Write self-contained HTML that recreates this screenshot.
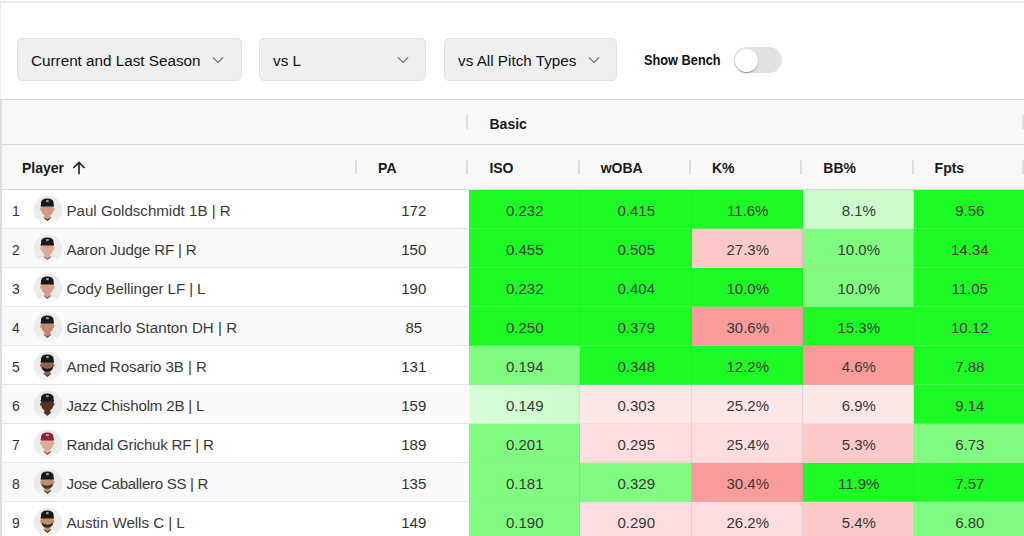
<!DOCTYPE html>
<html><head><meta charset="utf-8"><title>Lineup</title>
<style>
*{box-sizing:border-box;margin:0;padding:0}
html,body{width:1024px;height:536px;overflow:hidden;background:#fff;font-family:"Liberation Sans",sans-serif;color:#2b2b2b;position:relative}
.topline{position:absolute;left:0;top:1px;width:1024px;height:2px;background:#ececec}
.leftline{position:absolute;left:0;top:0;width:1px;height:100px;background:#ececec}
.dd{position:absolute;top:38px;height:42.5px;background:#efefef;border:1px solid #e1e1e1;border-radius:5px;font-size:15px;color:#1e1e1e;white-space:nowrap}
.dd span{position:absolute;left:13px;top:12.5px;line-height:18px;font-size:15.25px;color:#111}
.chev{position:absolute;top:16.6px}
.sb{position:absolute;left:643.5px;top:51px;font-size:14.5px;font-weight:700;color:#111;transform:scaleX(0.88);transform-origin:0 0;line-height:18px;white-space:nowrap}
.track{position:absolute;left:734px;top:47px;width:48px;height:26px;border-radius:13px;background:#e2e2e2}
.knob{position:absolute;left:735px;top:48.5px;width:23px;height:23px;border-radius:50%;background:#fff;box-shadow:0 2px 1px -1px rgba(0,0,0,0.2),0 1px 1px 0 rgba(0,0,0,0.14),0 1px 3px 0 rgba(0,0,0,0.12)}
.grid{position:absolute;left:0;top:98.5px;width:1024px;height:440px;border-top:1.5px solid #d5d7dd;border-left:2px solid #dcdde2;border-radius:3px 0 0 0;background:#fff;overflow:hidden}
.hbg{position:absolute;left:0;top:100px;width:1024px;height:90px;background:#f8f8f8}
.lb{position:absolute;left:0;top:99px;width:2px;height:440px;background:#dcdde2;z-index:5}
.hl1{position:absolute;left:0;top:144px;width:1024px;height:1px;background:#d3d8e1}
.hl2{position:absolute;left:0;top:189px;width:1024px;height:1px;background:#d3d8e1}
.sep{position:absolute;width:2px;height:14px;background:#d9dde6}
.hd{position:absolute;font-size:14px;font-weight:700;color:#1a1a1a;line-height:16px;white-space:nowrap;margin-top:1px}
.arrow{position:absolute;left:72px;top:160px}
.row{position:absolute;left:2px;width:1022px;height:39px;border-bottom:1px solid #e1e5ee}
.row .num{position:absolute;left:10px;top:13px;font-size:14px;line-height:16px;color:#333}
.row .av{position:absolute;left:31.2px;top:5.2px}
.row .name{position:absolute;left:64.5px;top:11.5px;font-size:15.1px;line-height:18px;color:#3a3a3a;white-space:nowrap}
.row .pa{position:absolute;left:355.6px;width:111.3px;padding-left:1px;top:11.5px;text-align:center;font-size:15px;line-height:18px;color:#333}
.row .cell{position:absolute;top:0;height:39px;margin-left:-2px;text-align:center;font-size:15px;line-height:41px;color:#383838;padding-left:1.5px;border-right:1px solid rgba(110,120,130,0.16);border-bottom:1px solid rgba(200,205,215,0.28)}
</style></head><body>
<div class="topline"></div><div class="leftline"></div>
<div class="dd" style="left:17px;width:225px"><span>Current and Last Season</span><svg class="chev" style="left:194px" width="12" height="8" viewBox="0 0 12 8"><path d="M0.8 1.3 L6 6.5 L11.2 1.3" fill="none" stroke="#6e6e6e" stroke-width="1.2"/></svg></div>
<div class="dd" style="left:259px;width:167px"><span>vs L</span><svg class="chev" style="left:137.1px" width="12" height="8" viewBox="0 0 12 8"><path d="M0.8 1.3 L6 6.5 L11.2 1.3" fill="none" stroke="#6e6e6e" stroke-width="1.2"/></svg></div>
<div class="dd" style="left:444px;width:173px"><span>vs All Pitch Types</span><svg class="chev" style="left:143.3px" width="12" height="8" viewBox="0 0 12 8"><path d="M0.8 1.3 L6 6.5 L11.2 1.3" fill="none" stroke="#6e6e6e" stroke-width="1.2"/></svg></div>
<div class="sb">Show Bench</div>
<div class="track"></div><div class="knob"></div>
<div class="grid"></div>
<div class="hbg"></div>
<div class="hl1"></div><div class="lb"></div><div class="hl2"></div>
<div class="sep" style="left:355.3px;top:160px"></div>
<div class="sep" style="left:465.8px;top:160px"></div>
<div class="sep" style="left:577.5px;top:160px"></div>
<div class="sep" style="left:688.9px;top:160px"></div>
<div class="sep" style="left:800.2px;top:160px"></div>
<div class="sep" style="left:911.6px;top:160px"></div>
<div class="sep" style="left:1022px;top:160px"></div>
<div class="sep" style="left:465.8px;top:115px"></div>
<div class="sep" style="left:1022px;top:115px"></div>
<span class="hd" style="left:489.5px;top:115px">Basic</span>
<span class="hd" style="left:22px;top:159px">Player</span>
<svg class="arrow" width="14" height="16" viewBox="0 0 14 16"><path d="M7 14.2 V2.5 M1.4 8 L7 2.4 L12.6 8" fill="none" stroke="#1d1d1d" stroke-width="1.6"/></svg>
<span class="hd" style="left:378.1px;top:159px">PA</span>
<span class="hd" style="left:489.4px;top:159px">ISO</span>
<span class="hd" style="left:600.7px;top:159px">wOBA</span>
<span class="hd" style="left:712.0px;top:159px">K%</span>
<span class="hd" style="left:823.3px;top:159px">BB%</span>
<span class="hd" style="left:934.6px;top:159px">Fpts</span>
<div class="row" style="top:190px;background:#ffffff"><span class="num">1</span><svg class="av" width="30" height="30" viewBox="0 0 30 30"><circle cx="15" cy="15" r="14.2" fill="#ebebeb"/><clipPath id="c0"><circle cx="15" cy="15" r="14.2"/></clipPath><g clip-path="url(#c0)"><path d="M1.5 31 Q2.5 25 9.8 22.8 L19 22.8 Q26.3 25 27.3 31 Z" fill="#f7f7f7"/><path d="M10.2 22.6 L14.4 26 L18.6 22.6 Z" fill="#2a2a2a"/><rect x="11.3" y="17" width="6" height="6" fill="#d09a82"/><path d="M11.3 22.4 L14.4 24.6 L17.3 22.4 Z" fill="#d09a82"/><path d="M8.1 10 L20.5 10 L20.3 15.6 Q19.7 20.5 14.3 20.7 Q8.9 20.5 8.3 15.6 Z" fill="#d09a82"/><ellipse cx="8" cy="14.2" rx="0.8" ry="1.7" fill="#d09a82"/><ellipse cx="20.6" cy="14.2" rx="0.8" ry="1.7" fill="#d09a82"/><path d="M8 10.8 L8 8 Q8.1 3.7 14.3 3.6 Q20.5 3.7 20.6 8 L20.6 10.8 Z" fill="#18181c"/><rect x="7.5" y="9.8" width="13.6" height="1.7" rx="0.85" fill="#18181c"/><rect x="13.1" y="5" width="2.6" height="2.2" fill="#c8c8c8" opacity="0.75"/></g></svg><span class="name" style="letter-spacing:0.000px">Paul Goldschmidt 1B | R</span><span class="pa">172</span><span class="cell" style="left:469px;width:111px;background:#1dfb25">0.232</span><span class="cell" style="left:580px;width:112px;background:#1dfb25">0.415</span><span class="cell" style="left:692px;width:111px;background:#1dfb25">11.6%</span><span class="cell" style="left:803px;width:111px;background:#ccfccc">8.1%</span><span class="cell" style="left:914px;width:111px;background:#1dfb25">9.56</span></div>
<div class="row" style="top:229px;background:#fafafa"><span class="num">2</span><svg class="av" width="30" height="30" viewBox="0 0 30 30"><circle cx="15" cy="15" r="14.2" fill="#ebebeb"/><clipPath id="c1"><circle cx="15" cy="15" r="14.2"/></clipPath><g clip-path="url(#c1)"><path d="M1.5 31 Q2.5 25 9.8 22.8 L19 22.8 Q26.3 25 27.3 31 Z" fill="#f5f5f5"/><path d="M10.2 22.6 L14.4 26 L18.6 22.6 Z" fill="#666"/><rect x="11.3" y="17" width="6" height="6" fill="#dcaa92"/><path d="M11.3 22.4 L14.4 24.6 L17.3 22.4 Z" fill="#dcaa92"/><path d="M8.1 10 L20.5 10 L20.3 15.6 Q19.7 20.5 14.3 20.7 Q8.9 20.5 8.3 15.6 Z" fill="#dcaa92"/><ellipse cx="8" cy="14.2" rx="0.8" ry="1.7" fill="#dcaa92"/><ellipse cx="20.6" cy="14.2" rx="0.8" ry="1.7" fill="#dcaa92"/><path d="M8 10.8 L8 8 Q8.1 3.7 14.3 3.6 Q20.5 3.7 20.6 8 L20.6 10.8 Z" fill="#18181c"/><rect x="7.5" y="9.8" width="13.6" height="1.7" rx="0.85" fill="#18181c"/><rect x="13.1" y="5" width="2.6" height="2.2" fill="#c8c8c8" opacity="0.75"/></g></svg><span class="name" style="letter-spacing:-0.176px">Aaron Judge RF | R</span><span class="pa">150</span><span class="cell" style="left:469px;width:111px;background:#1dfb25">0.455</span><span class="cell" style="left:580px;width:112px;background:#1dfb25">0.505</span><span class="cell" style="left:692px;width:111px;background:#fcc9c9">27.3%</span><span class="cell" style="left:803px;width:111px;background:#80fc80">10.0%</span><span class="cell" style="left:914px;width:111px;background:#1dfb25">14.34</span></div>
<div class="row" style="top:268px;background:#ffffff"><span class="num">3</span><svg class="av" width="30" height="30" viewBox="0 0 30 30"><circle cx="15" cy="15" r="14.2" fill="#ebebeb"/><clipPath id="c2"><circle cx="15" cy="15" r="14.2"/></clipPath><g clip-path="url(#c2)"><path d="M1.5 31 Q2.5 25 9.8 22.8 L19 22.8 Q26.3 25 27.3 31 Z" fill="#f5f5f5"/><path d="M10.2 22.6 L14.4 26 L18.6 22.6 Z" fill="#666"/><rect x="11.3" y="17" width="6" height="6" fill="#d4a088"/><path d="M11.3 22.4 L14.4 24.6 L17.3 22.4 Z" fill="#d4a088"/><path d="M8.1 10 L20.5 10 L20.3 15.6 Q19.7 20.5 14.3 20.7 Q8.9 20.5 8.3 15.6 Z" fill="#d4a088"/><ellipse cx="8" cy="14.2" rx="0.8" ry="1.7" fill="#d4a088"/><ellipse cx="20.6" cy="14.2" rx="0.8" ry="1.7" fill="#d4a088"/><path d="M8 10.8 L8 8 Q8.1 3.7 14.3 3.6 Q20.5 3.7 20.6 8 L20.6 10.8 Z" fill="#18181c"/><rect x="7.5" y="9.8" width="13.6" height="1.7" rx="0.85" fill="#18181c"/><rect x="13.1" y="5" width="2.6" height="2.2" fill="#c8c8c8" opacity="0.75"/></g></svg><span class="name" style="letter-spacing:-0.085px">Cody Bellinger LF | L</span><span class="pa">190</span><span class="cell" style="left:469px;width:111px;background:#1dfb25">0.232</span><span class="cell" style="left:580px;width:112px;background:#1dfb25">0.404</span><span class="cell" style="left:692px;width:111px;background:#1dfb25">10.0%</span><span class="cell" style="left:803px;width:111px;background:#80fc80">10.0%</span><span class="cell" style="left:914px;width:111px;background:#1dfb25">11.05</span></div>
<div class="row" style="top:307px;background:#fafafa"><span class="num">4</span><svg class="av" width="30" height="30" viewBox="0 0 30 30"><circle cx="15" cy="15" r="14.2" fill="#ebebeb"/><clipPath id="c3"><circle cx="15" cy="15" r="14.2"/></clipPath><g clip-path="url(#c3)"><path d="M1.5 31 Q2.5 25 9.8 22.8 L19 22.8 Q26.3 25 27.3 31 Z" fill="#f4f4f4"/><path d="M10.2 22.6 L14.4 26 L18.6 22.6 Z" fill="#555"/><rect x="11.3" y="17" width="6" height="6" fill="#c08a70"/><path d="M11.3 22.4 L14.4 24.6 L17.3 22.4 Z" fill="#c08a70"/><path d="M8.1 10 L20.5 10 L20.3 15.6 Q19.7 20.5 14.3 20.7 Q8.9 20.5 8.3 15.6 Z" fill="#c08a70"/><ellipse cx="8" cy="14.2" rx="0.8" ry="1.7" fill="#c08a70"/><ellipse cx="20.6" cy="14.2" rx="0.8" ry="1.7" fill="#c08a70"/><path d="M8 10.8 L8 8 Q8.1 3.7 14.3 3.6 Q20.5 3.7 20.6 8 L20.6 10.8 Z" fill="#18181c"/><rect x="7.5" y="9.8" width="13.6" height="1.7" rx="0.85" fill="#18181c"/><rect x="13.1" y="5" width="2.6" height="2.2" fill="#c8c8c8" opacity="0.75"/></g></svg><span class="name" style="letter-spacing:0.022px">Giancarlo Stanton DH | R</span><span class="pa">85</span><span class="cell" style="left:469px;width:111px;background:#1dfb25">0.250</span><span class="cell" style="left:580px;width:112px;background:#1dfb25">0.379</span><span class="cell" style="left:692px;width:111px;background:#f99b9b">30.6%</span><span class="cell" style="left:803px;width:111px;background:#1dfb25">15.3%</span><span class="cell" style="left:914px;width:111px;background:#1dfb25">10.12</span></div>
<div class="row" style="top:346px;background:#ffffff"><span class="num">5</span><svg class="av" width="30" height="30" viewBox="0 0 30 30"><circle cx="15" cy="15" r="14.2" fill="#ebebeb"/><clipPath id="c4"><circle cx="15" cy="15" r="14.2"/></clipPath><g clip-path="url(#c4)"><path d="M1.5 31 Q2.5 25 9.8 22.8 L19 22.8 Q26.3 25 27.3 31 Z" fill="#f4f4f4"/><path d="M10.2 22.6 L14.4 26 L18.6 22.6 Z" fill="#333"/><rect x="11.3" y="17" width="6" height="6" fill="#946450"/><path d="M11.3 22.4 L14.4 24.6 L17.3 22.4 Z" fill="#946450"/><path d="M8.1 10 L20.5 10 L20.3 15.6 Q19.7 20.5 14.3 20.7 Q8.9 20.5 8.3 15.6 Z" fill="#946450"/><ellipse cx="8" cy="14.2" rx="0.8" ry="1.7" fill="#946450"/><ellipse cx="20.6" cy="14.2" rx="0.8" ry="1.7" fill="#946450"/><path d="M8.5 15.2 Q8.9 20.6 14.3 20.8 Q19.7 20.6 20.1 15.2 Q18.4 17.6 14.3 17.7 Q10.2 17.6 8.5 15.2 Z" fill="#231a16"/><path d="M8 10.8 L8 8 Q8.1 3.7 14.3 3.6 Q20.5 3.7 20.6 8 L20.6 10.8 Z" fill="#18181c"/><rect x="7.5" y="9.8" width="13.6" height="1.7" rx="0.85" fill="#18181c"/><rect x="13.1" y="5" width="2.6" height="2.2" fill="#c8c8c8" opacity="0.75"/></g></svg><span class="name" style="letter-spacing:-0.061px">Amed Rosario 3B | R</span><span class="pa">131</span><span class="cell" style="left:469px;width:111px;background:#80fc80">0.194</span><span class="cell" style="left:580px;width:112px;background:#1dfb25">0.348</span><span class="cell" style="left:692px;width:111px;background:#1dfb25">12.2%</span><span class="cell" style="left:803px;width:111px;background:#f99b9b">4.6%</span><span class="cell" style="left:914px;width:111px;background:#1dfb25">7.88</span></div>
<div class="row" style="top:385px;background:#fafafa"><span class="num">6</span><svg class="av" width="30" height="30" viewBox="0 0 30 30"><circle cx="15" cy="15" r="14.2" fill="#ebebeb"/><clipPath id="c5"><circle cx="15" cy="15" r="14.2"/></clipPath><g clip-path="url(#c5)"><path d="M1.5 31 Q2.5 25 9.8 22.8 L19 22.8 Q26.3 25 27.3 31 Z" fill="#f2f2f2"/><path d="M10.2 22.6 L14.4 26 L18.6 22.6 Z" fill="#444"/><rect x="11.3" y="17" width="6" height="6" fill="#56321f"/><path d="M11.3 22.4 L14.4 24.6 L17.3 22.4 Z" fill="#56321f"/><path d="M8.1 10 L20.5 10 L20.3 15.6 Q19.7 20.5 14.3 20.7 Q8.9 20.5 8.3 15.6 Z" fill="#56321f"/><ellipse cx="8" cy="14.2" rx="0.8" ry="1.7" fill="#56321f"/><ellipse cx="20.6" cy="14.2" rx="0.8" ry="1.7" fill="#56321f"/><path d="M8 10.8 L8 8 Q8.1 3.7 14.3 3.6 Q20.5 3.7 20.6 8 L20.6 10.8 Z" fill="#18181c"/><rect x="7.5" y="9.8" width="13.6" height="1.7" rx="0.85" fill="#18181c"/><rect x="13.1" y="5" width="2.6" height="2.2" fill="#c8c8c8" opacity="0.75"/></g></svg><span class="name" style="letter-spacing:-0.189px">Jazz Chisholm 2B | L</span><span class="pa">159</span><span class="cell" style="left:469px;width:111px;background:linear-gradient(90deg,#d9fcd9,#cbfbcb)">0.149</span><span class="cell" style="left:580px;width:112px;background:#fde6e6">0.303</span><span class="cell" style="left:692px;width:111px;background:#fde6e6">25.2%</span><span class="cell" style="left:803px;width:111px;background:#fde6e6">6.9%</span><span class="cell" style="left:914px;width:111px;background:#1dfb25">9.14</span></div>
<div class="row" style="top:424px;background:#ffffff"><span class="num">7</span><svg class="av" width="30" height="30" viewBox="0 0 30 30"><circle cx="15" cy="15" r="14.2" fill="#ebebeb"/><clipPath id="c6"><circle cx="15" cy="15" r="14.2"/></clipPath><g clip-path="url(#c6)"><path d="M1.5 31 Q2.5 25 9.8 22.8 L19 22.8 Q26.3 25 27.3 31 Z" fill="#f7f7f7"/><path d="M10.2 22.6 L14.4 26 L18.6 22.6 Z" fill="#a83040"/><rect x="11.3" y="17" width="6" height="6" fill="#dcac96"/><path d="M11.3 22.4 L14.4 24.6 L17.3 22.4 Z" fill="#dcac96"/><path d="M8.1 10 L20.5 10 L20.3 15.6 Q19.7 20.5 14.3 20.7 Q8.9 20.5 8.3 15.6 Z" fill="#dcac96"/><ellipse cx="8" cy="14.2" rx="0.8" ry="1.7" fill="#dcac96"/><ellipse cx="20.6" cy="14.2" rx="0.8" ry="1.7" fill="#dcac96"/><path d="M8 10.8 L8 8 Q8.1 3.7 14.3 3.6 Q20.5 3.7 20.6 8 L20.6 10.8 Z" fill="#8c2232"/><rect x="7.5" y="9.8" width="13.6" height="1.7" rx="0.85" fill="#8c2232"/><rect x="13.1" y="5" width="2.6" height="2.2" fill="#c8c8c8" opacity="0.75"/></g></svg><span class="name" style="letter-spacing:-0.210px">Randal Grichuk RF | R</span><span class="pa">189</span><span class="cell" style="left:469px;width:111px;background:#80fc80">0.201</span><span class="cell" style="left:580px;width:112px;background:#fddddd">0.295</span><span class="cell" style="left:692px;width:111px;background:#fddddd">25.4%</span><span class="cell" style="left:803px;width:111px;background:#fcc9c9">5.3%</span><span class="cell" style="left:914px;width:111px;background:#80fc80">6.73</span></div>
<div class="row" style="top:463px;background:#fafafa"><span class="num">8</span><svg class="av" width="30" height="30" viewBox="0 0 30 30"><circle cx="15" cy="15" r="14.2" fill="#ebebeb"/><clipPath id="c7"><circle cx="15" cy="15" r="14.2"/></clipPath><g clip-path="url(#c7)"><path d="M1.5 31 Q2.5 25 9.8 22.8 L19 22.8 Q26.3 25 27.3 31 Z" fill="#f4f4f4"/><path d="M10.2 22.6 L14.4 26 L18.6 22.6 Z" fill="#333"/><rect x="11.3" y="17" width="6" height="6" fill="#c08c72"/><path d="M11.3 22.4 L14.4 24.6 L17.3 22.4 Z" fill="#c08c72"/><path d="M8.1 10 L20.5 10 L20.3 15.6 Q19.7 20.5 14.3 20.7 Q8.9 20.5 8.3 15.6 Z" fill="#c08c72"/><ellipse cx="8" cy="14.2" rx="0.8" ry="1.7" fill="#c08c72"/><ellipse cx="20.6" cy="14.2" rx="0.8" ry="1.7" fill="#c08c72"/><path d="M8.5 15.2 Q8.9 20.6 14.3 20.8 Q19.7 20.6 20.1 15.2 Q18.4 17.6 14.3 17.7 Q10.2 17.6 8.5 15.2 Z" fill="#4a362a"/><path d="M8 10.8 L8 8 Q8.1 3.7 14.3 3.6 Q20.5 3.7 20.6 8 L20.6 10.8 Z" fill="#18181c"/><rect x="7.5" y="9.8" width="13.6" height="1.7" rx="0.85" fill="#18181c"/><rect x="13.1" y="5" width="2.6" height="2.2" fill="#c8c8c8" opacity="0.75"/></g></svg><span class="name" style="letter-spacing:-0.315px">Jose Caballero SS | R</span><span class="pa">135</span><span class="cell" style="left:469px;width:111px;background:#80fc80">0.181</span><span class="cell" style="left:580px;width:112px;background:#80fc80">0.329</span><span class="cell" style="left:692px;width:111px;background:#f99b9b">30.4%</span><span class="cell" style="left:803px;width:111px;background:#1dfb25">11.9%</span><span class="cell" style="left:914px;width:111px;background:#1dfb25">7.57</span></div>
<div class="row" style="top:502px;background:#ffffff"><span class="num">9</span><svg class="av" width="30" height="30" viewBox="0 0 30 30"><circle cx="15" cy="15" r="14.2" fill="#ebebeb"/><clipPath id="c8"><circle cx="15" cy="15" r="14.2"/></clipPath><g clip-path="url(#c8)"><path d="M1.5 31 Q2.5 25 9.8 22.8 L19 22.8 Q26.3 25 27.3 31 Z" fill="#f4f4f4"/><path d="M10.2 22.6 L14.4 26 L18.6 22.6 Z" fill="#333"/><rect x="11.3" y="17" width="6" height="6" fill="#c09070"/><path d="M11.3 22.4 L14.4 24.6 L17.3 22.4 Z" fill="#c09070"/><path d="M8.1 10 L20.5 10 L20.3 15.6 Q19.7 20.5 14.3 20.7 Q8.9 20.5 8.3 15.6 Z" fill="#c09070"/><ellipse cx="8" cy="14.2" rx="0.8" ry="1.7" fill="#c09070"/><ellipse cx="20.6" cy="14.2" rx="0.8" ry="1.7" fill="#c09070"/><path d="M8.5 15.2 Q8.9 20.6 14.3 20.8 Q19.7 20.6 20.1 15.2 Q18.4 17.6 14.3 17.7 Q10.2 17.6 8.5 15.2 Z" fill="#3a2c24"/><path d="M8 10.8 L8 8 Q8.1 3.7 14.3 3.6 Q20.5 3.7 20.6 8 L20.6 10.8 Z" fill="#18181c"/><rect x="7.5" y="9.8" width="13.6" height="1.7" rx="0.85" fill="#18181c"/><rect x="13.1" y="5" width="2.6" height="2.2" fill="#c8c8c8" opacity="0.75"/></g></svg><span class="name" style="letter-spacing:-0.024px">Austin Wells C | L</span><span class="pa">149</span><span class="cell" style="left:469px;width:111px;background:#80fc80">0.190</span><span class="cell" style="left:580px;width:112px;background:#fddddd">0.290</span><span class="cell" style="left:692px;width:111px;background:#fddddd">26.2%</span><span class="cell" style="left:803px;width:111px;background:#fcc9c9">5.4%</span><span class="cell" style="left:914px;width:111px;background:#80fc80">6.80</span></div>
</body></html>
